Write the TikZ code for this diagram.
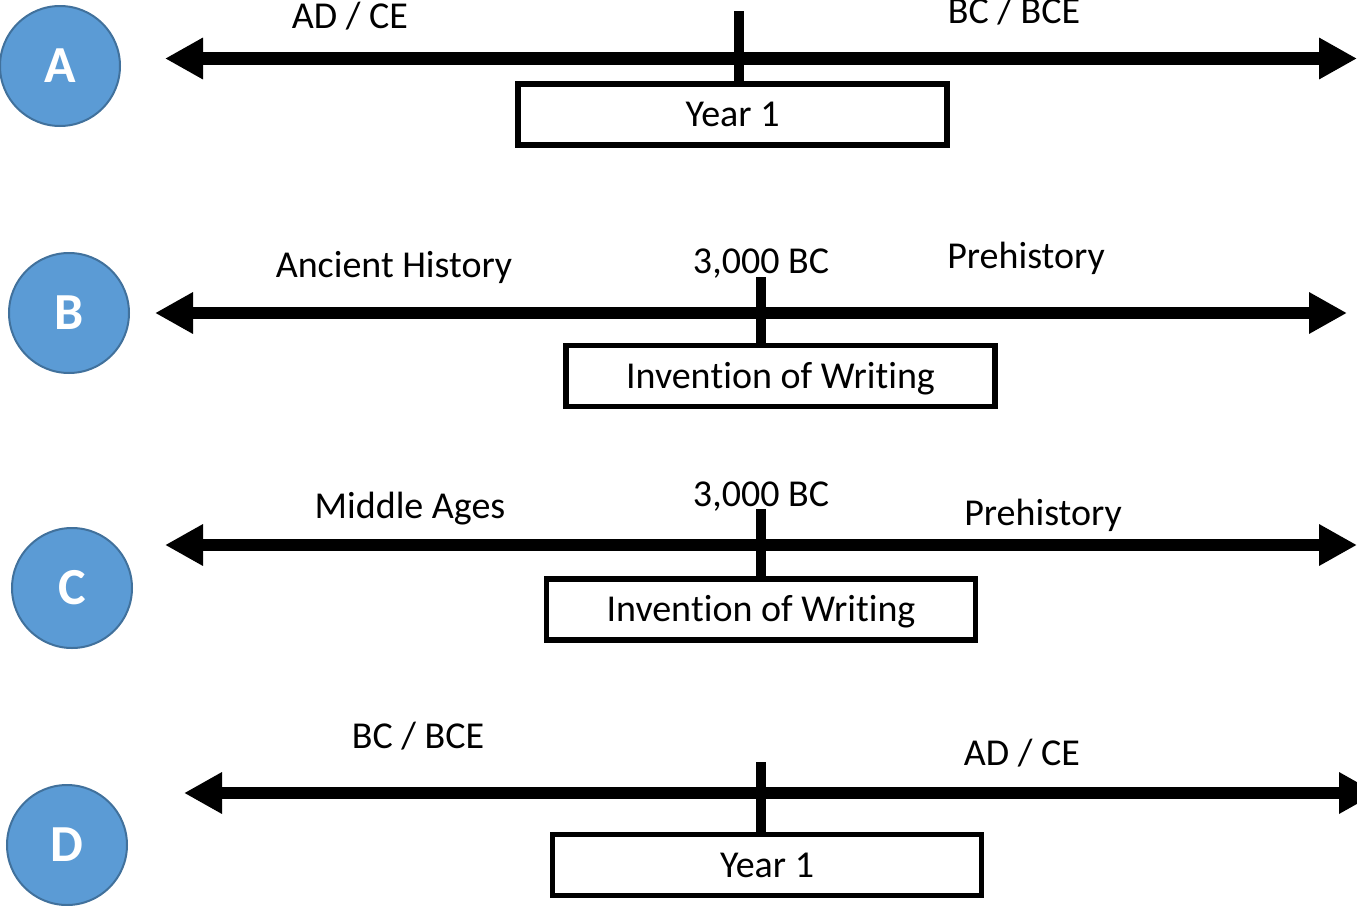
\documentclass[tikz,border=0pt]{standalone}
\usepackage{fontspec}
\setmainfont{Carlito}[Ligatures=NoCommon]
\usetikzlibrary{arrows.meta}
\definecolor{cfill}{HTML}{5B9BD5}
\definecolor{cedge}{HTML}{41719C}
\newcommand{\invw}{Inven\kern0pt tion of Wri\kern0pt ting}
\tikzset{
  circ/.style={circle, fill=cfill, draw=cedge, line width=2pt, minimum size=120pt, inner sep=0pt, text=white, font=\bfseries\fontsize{52}{52}\selectfont, text height=33.5pt, text depth=0pt},
  lbl/.style={anchor=base, inner sep=0pt, font=\fontsize{38}{38}\selectfont},
  tbox/.style={draw, line width=5.5pt, minimum width=429pt, minimum height=61pt, inner sep=0pt, text height=24.5pt, text depth=0pt, font=\fontsize{38}{38}\selectfont},
  tline/.style={line width=12.5pt, {Triangle[length=38pt,width=39pt]}-{Triangle[length=38pt,width=39pt]}},
  tickline/.style={line width=10pt}
}
\begin{document}
\begin{tikzpicture}[x=1pt,y=-1pt]
\useasboundingbox (0,0) rectangle (1357,905);
\clip (0,0) rectangle (1357,905);

% ---------- A ----------
\node[circ] (cA) at (60,66) {A};
\coordinate (aL) at (165,58.5);
\coordinate (aR) at (1357,58.5);
\draw[tline] (aL) -- (aR);
\node[tbox] (bA) at (732.5,114.5) {Year 1};
\coordinate (tA) at (739,11);
\draw[tickline] (tA) -- (tA |- bA.north);
\node[lbl] (lA1) at (350,28) {AD / CE};
\node[lbl] (lA2) at (1014,23) {BC / BCE};

% ---------- B ----------
\node[circ] (cB) at (69,313) {B};
\coordinate (bL) at (155,313);
\coordinate (bR) at (1347,313);
\draw[tline] (bL) -- (bR);
\node[tbox] (bB) at (780.5,376) {\invw};
\coordinate (tB) at (761,277);
\draw[tickline] (tB) -- (tB |- bB.north);
\node[lbl] (lB1) at (394,277) {Ancient History};
\node[lbl] (lB2) at (761,273) {3,000 BC};
\node[lbl] (lB3) at (1026,268) {Prehistory};

% ---------- C ----------
\node[circ] (cC) at (72,588) {C};
\coordinate (cL) at (165,545);
\coordinate (cR) at (1357,545);
\draw[tline] (cL) -- (cR);
\node[tbox] (bC) at (761,609.5) {\invw};
\coordinate (tC) at (761,509);
\draw[tickline] (tC) -- (tC |- bC.north);
\node[lbl] (lC1) at (410,518) {Middle Ages};
\node[lbl] (lC2) at (761,506) {3,000 BC};
\node[lbl] (lC3) at (1043,525) {Prehistory};

% ---------- D ----------
\node[circ] (cD) at (67,845) {D};
\coordinate (dL) at (184,793);
\coordinate (dR) at (1377,793);
\draw[tline] (dL) -- (dR);
\node[tbox] (bD) at (767,865) {Year 1};
\coordinate (tD) at (761,762);
\draw[tickline] (tD) -- (tD |- bD.north);
\node[lbl] (lD1) at (418,748) {BC / BCE};
\node[lbl] (lD2) at (1022,765) {AD / CE};
\end{tikzpicture}
\end{document}
